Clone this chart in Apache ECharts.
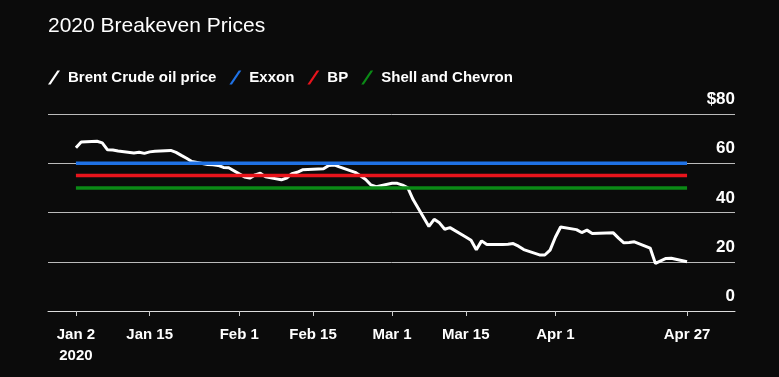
<!DOCTYPE html>
<html>
<head>
<meta charset="utf-8">
<script src="https://cdn.jsdelivr.net/npm/echarts@6/dist/echarts.min.js"></script>
<style>
html,body{margin:0;padding:0;background:#0b0b0b;}
#chart{width:779px;height:377px;}
</style>
</head>
<body>
<div id="chart"></div>
<script>
// ---- data ----
var startDate = '2020-01-02';
var dates = ['2020-01-02','2020-01-03','2020-01-06','2020-01-07','2020-01-08','2020-01-09','2020-01-10','2020-01-13','2020-01-14','2020-01-15','2020-01-16','2020-01-17','2020-01-20','2020-01-21','2020-01-22','2020-01-23','2020-01-24','2020-01-27','2020-01-28','2020-01-29','2020-01-30','2020-01-31',
'2020-02-03','2020-02-04','2020-02-05','2020-02-06','2020-02-07','2020-02-10','2020-02-11','2020-02-12','2020-02-13','2020-02-14','2020-02-17','2020-02-18','2020-02-19','2020-02-20','2020-02-21','2020-02-24','2020-02-25','2020-02-26','2020-02-27','2020-02-28',
'2020-03-02','2020-03-03','2020-03-04','2020-03-05','2020-03-06','2020-03-09','2020-03-10','2020-03-11','2020-03-12','2020-03-13','2020-03-16','2020-03-17','2020-03-18','2020-03-19','2020-03-20','2020-03-23','2020-03-24','2020-03-25','2020-03-26','2020-03-27','2020-03-30','2020-03-31',
'2020-04-01','2020-04-02','2020-04-03','2020-04-06','2020-04-07','2020-04-08','2020-04-09','2020-04-13','2020-04-14','2020-04-15','2020-04-16','2020-04-17','2020-04-20','2020-04-21','2020-04-22','2020-04-23','2020-04-24','2020-04-27'];
var brent = [66.25,68.60,68.91,68.27,65.44,65.37,64.98,64.20,64.49,64.00,64.62,64.85,65.20,64.40,63.21,62.04,60.69,59.50,59.40,59.10,58.29,58.16,
54.45,53.96,55.28,55.93,54.47,53.27,54.01,55.79,56.34,57.32,57.67,57.75,59.12,59.31,58.50,56.30,54.95,53.43,51.17,50.52,
51.90,51.86,51.13,49.99,45.27,34.36,37.22,35.79,33.22,33.85,30.05,28.73,24.88,28.47,26.98,27.03,27.15,27.39,26.34,24.93,22.76,22.74,
24.74,29.94,34.11,33.05,31.87,32.84,31.48,31.74,29.60,27.69,27.82,28.08,25.57,19.33,20.37,21.33,21.44,19.99];
var exxon = 60;
var bp = 55;
var shellChevron = 50;
var lineStart = '2020-01-02';
var lineEnd = '2020-04-27';
var tickDates = ['2020-01-02','2020-01-16','2020-02-02','2020-02-16','2020-03-02','2020-03-16','2020-04-02','2020-04-27'];
var tickLabels = ['Jan 2\n2020','Jan 15','Feb 1','Feb 15','Mar 1','Mar 15','Apr 1','Apr 27'];
var yTicks = [0,20,40,60,80];
var yTickLabels = ['0','20','40','60','$80'];
var seriesNames = ['Brent Crude oil price','Exxon','BP','Shell and Chevron'];

// ---- build ----
function dayOf(s){ return (Date.parse(s+'T00:00:00Z') - Date.parse(startDate+'T00:00:00Z'))/86400000; }
var tickDays = tickDates.map(dayOf);
var brentData = dates.map(function(d,i){ return [dayOf(d), brent[i]]; });
function flat(v){ return [[dayOf(lineStart), v],[dayOf(lineEnd), v]]; }
var colors = ['#ffffff','#1f72e6','#e8141c','#0b8a16'];
var slash = 'path://M0,14 L2.6,14 L12,0 L9.4,0 Z';
var FONT = 'Liberation Sans, Arial, sans-serif';

var chart = echarts.init(document.getElementById('chart'), null, {renderer:'canvas'});
chart.setOption({
  backgroundColor: '#0b0b0b',
  animation: false,
  title: {
    text: '2020 Breakeven Prices',
    left: 43, top: 11,
    textStyle: {color:'#ffffff', fontSize:21, fontWeight:'normal', fontFamily:FONT}
  },
  legend: {
    left: 43, top: 65,
    itemWidth: 12, itemHeight: 14, itemGap: 13,
    data: seriesNames.map(function(n,i){ return {name:n, icon:slash, itemStyle:{color:colors[i]}}; }),
    textStyle: {color:'#ffffff', fontSize:15, fontWeight:'bold', fontFamily:FONT, padding:[0,0,0,3]},
    selectedMode: false
  },
  grid: {left:48, right:44, top:114, bottom:66, containLabel:false},
  xAxis: {
    type: 'value',
    min: -5.3, max: 125.1,
    splitLine: {show:false},
    axisLine: {show:true, onZero:false, lineStyle:{color:'#dddddd', width:1}},
    axisTick: {show:true, customValues: tickDays, length:5, lineStyle:{color:'#cccccc'}},
    axisLabel: {
      customValues: tickDays,
      color:'#ffffff', fontSize:15, fontWeight:'bold', lineHeight:21, margin:13,
      fontFamily:FONT,
      formatter: function(v){
        for (var i=0;i<tickDays.length;i++){ if (Math.abs(tickDays[i]-v)<1e-6) return tickLabels[i]; }
        return '';
      }
    }
  },
  yAxis: {
    type: 'value',
    min: 0, max: 80, interval: 20,
    position: 'right',
    axisLine: {show:false},
    axisTick: {show:false},
    splitLine: {show:true, lineStyle:{color:'#bbbbbb', width:1}},
    axisLabel: {
      inside: true, margin: 0,
      color:'#ffffff', fontSize:17, fontWeight:'bold', verticalAlign:'bottom', padding:[0,0,6,0],
      fontFamily:FONT,
      formatter: function(v){ var i = yTicks.indexOf(v); return i>=0 ? yTickLabels[i] : ''; }
    }
  },
  series: [
    {name: seriesNames[0], type:'line', data: brentData, showSymbol:false, lineStyle:{color:colors[0], width:3}, itemStyle:{color:colors[0]}, z:2},
    {name: seriesNames[1], type:'line', data: flat(exxon), showSymbol:false, lineStyle:{color:colors[1], width:3.5}, itemStyle:{color:colors[1]}, z:3},
    {name: seriesNames[2], type:'line', data: flat(bp), showSymbol:false, lineStyle:{color:colors[2], width:3.5}, itemStyle:{color:colors[2]}, z:3},
    {name: seriesNames[3], type:'line', data: flat(shellChevron), showSymbol:false, lineStyle:{color:colors[3], width:3.5}, itemStyle:{color:colors[3]}, z:3}
  ]
});
</script>
</body>
</html>
